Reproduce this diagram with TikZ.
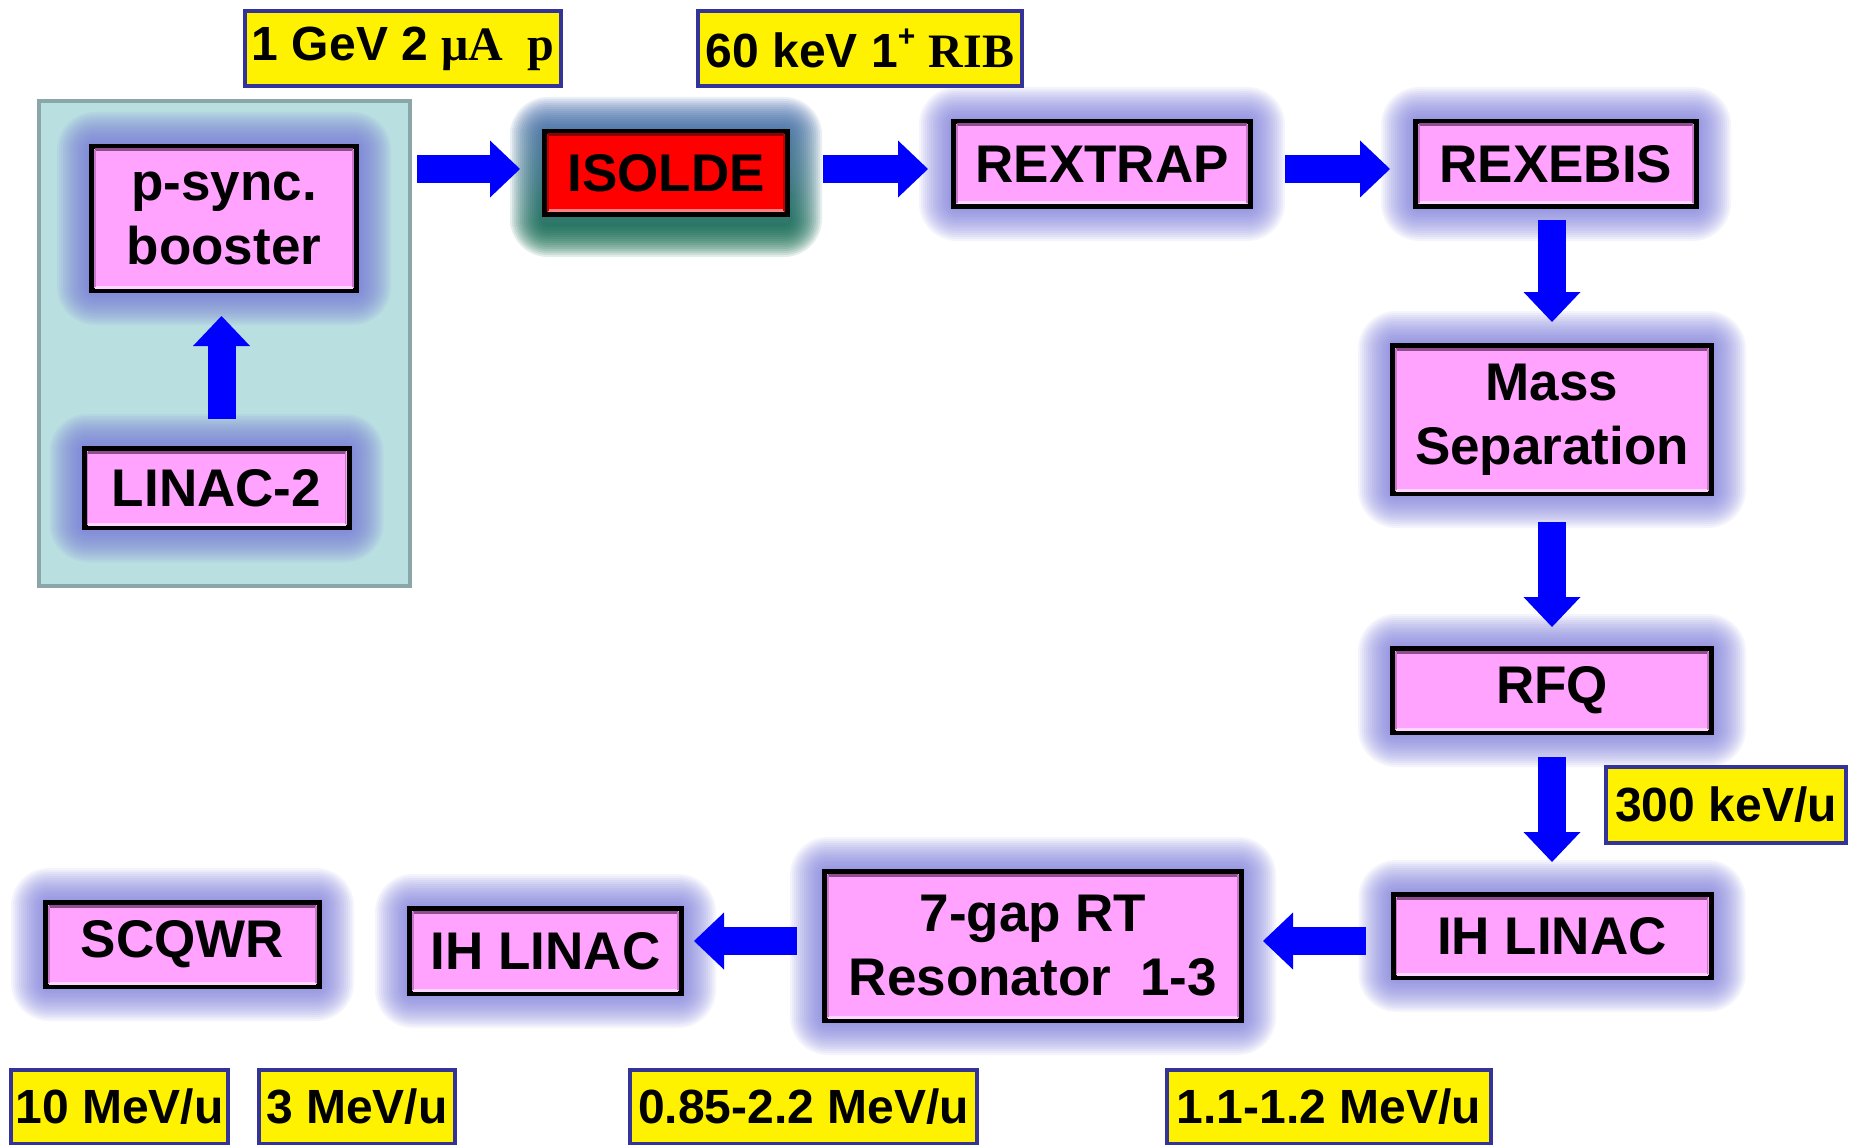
\documentclass[tikz,border=0pt]{standalone}
\usepackage{fontspec}
\setmainfont{Liberation Sans}
\newfontfamily\tms{Liberation Serif}
\usetikzlibrary{arrows.meta,calc}
\pgfdeclarelayer{back}
\pgfdeclarelayer{glow}
\pgfsetlayers{back,glow,main}
\definecolor{pinkbox}{HTML}{FFA3FF}
\definecolor{bevdark}{HTML}{8E4E8E}
\definecolor{bevmid}{HTML}{C878C8}
\definecolor{bevlight}{HTML}{FFD6FF}
\definecolor{reddark}{HTML}{8B0000}
\definecolor{redlight}{HTML}{FF8080}
\definecolor{lblue}{HTML}{333399}
\definecolor{arrblue}{HTML}{0000FF}
\definecolor{tealfill}{HTML}{B9DFE1}
\definecolor{tealline}{HTML}{8AA6A8}
\definecolor{glowc}{RGB}{118,118,216}
\definecolor{isoA}{RGB}{70,105,175}
\definecolor{isoB}{RGB}{0,95,60}
\tikzset{
  box/.style={draw=black, line width=2.5pt, fill=pinkbox, inner sep=0pt, align=center,
    font=\fontsize{26.5}{32}\selectfont\bfseries},
  lbl/.style={draw=lblue, line width=2pt, fill=yellow, inner sep=0pt,
    font=\fontsize{24}{28}\selectfont\bfseries},
  barrow/.style={draw=arrblue, line width=14pt,
    -{Triangle[length=15pt, width=28.5pt, line width=0pt]}},
}
\newcommand\glowit[2][glowc]{%
  \begin{pgfonlayer}{glow}
  \foreach \r in {2,4,...,32}{%
    \fill[#1, fill opacity=0.08, rounded corners={(3+0.5*\r)*1pt}]
      ([shift={(-\r,-\r)}]#2.north west) rectangle ([shift={(\r,\r)}]#2.south east);}
  \end{pgfonlayer}}
\newcommand\glowiso[1]{%
  \begin{pgfonlayer}{glow}
  \foreach \r in {2,4,...,32}{%
    \shade[top color=isoA, bottom color=isoB, fill opacity=0.11, rounded corners={(3+0.5*\r)*1pt}]
      ([shift={(-\r,-\r)}]#1.north west) rectangle ([shift={(\r,\r+8)}]#1.south east);}
  \end{pgfonlayer}}
\newcommand\bev[4]{% node, dark, mid, light
  \draw[line width=1.5pt, #2] ([shift={(6,6)}]#1.north west) -- ([shift={(-6,6)}]#1.north east);
  \draw[line width=1.5pt, #4] ([shift={(6,-6)}]#1.south west) -- ([shift={(-6,-6)}]#1.south east);
  \draw[line width=0.8pt, #3] ([shift={(6,6)}]#1.north west) -- ([shift={(6,-6)}]#1.south west);
  \draw[line width=0.8pt, #3] ([shift={(-6,6)}]#1.north east) -- ([shift={(-6,-6)}]#1.south east);}
\begin{document}
\begin{tikzpicture}[x=0.5pt, y=-0.5pt]
\useasboundingbox (0,0) rectangle (1849,1145);

% background group
\begin{pgfonlayer}{back}
\node[draw=tealline, line width=2pt, fill=tealfill, minimum width=185.5pt, minimum height=242.5pt, inner sep=0pt] (teal) at (224.5,343.5) {};
\end{pgfonlayer}

% boxes
\node[box, minimum width=132.5pt, minimum height=72pt] (psync) at (224,218.5) {p-sync.\\booster};
\node[box, minimum width=132.5pt, minimum height=39.5pt] (linac) at (216.5,488) {LINAC-2};
\node[box, fill=red, minimum width=121.5pt, minimum height=41.5pt] (isolde) at (666,173) {ISOLDE};
\node[box, minimum width=148.5pt, minimum height=42.5pt] (rextrap) at (1102,164) {REXTRAP};
\node[box, minimum width=140.5pt, minimum height=42.5pt] (rexebis) at (1556,164) {REXEBIS};
\node[box, minimum width=159.5pt, minimum height=74pt] (mass) at (1552,419.5) {Mass\\Separation};
\node[box, minimum width=159.5pt, minimum height=42pt] (rfq) at (1552,690.5) {RFQ};
\node[box, minimum width=159pt, minimum height=41.5pt] (ihr) at (1552,936) {IH LINAC};
\node[box, minimum width=208.5pt, minimum height=74.5pt] (gap) at (1033,946) {7-gap RT\\Resonator\ \ 1-3};
\node[box, minimum width=136pt, minimum height=42.5pt] (ihl) at (545.5,951) {IH LINAC};
\node[box, minimum width=137pt, minimum height=42pt] (scq) at (182.5,944.5) {SCQWR};

% glows
\glowit{psync}\glowit{linac}\glowiso{isolde}\glowit{rextrap}\glowit{rexebis}
\glowit{mass}\glowit{rfq}\glowit{ihr}\glowit{gap}\glowit{ihl}\glowit{scq}

% bevels
\foreach \n in {psync,linac,rextrap,rexebis,mass,rfq,ihr,gap,ihl,scq}{\bev{\n}{bevdark}{bevmid}{bevlight}}
\bev{isolde}{reddark}{red!75!black}{redlight}

% labels
\node[lbl, minimum width=158pt, minimum height=37.5pt] (l1) at (403,48.5) {1 GeV 2 {\tms μA\ \ p}};
\node[lbl, minimum width=162pt, minimum height=37.5pt] (l2) at (860,48.5) {60 keV 1\raisebox{0.42em}{\fontsize{15}{15}\selectfont +} {\tms RIB}};
\node[lbl, minimum width=120pt, minimum height=38pt] (l300) at (1726,805) {300 keV/u};
\node[lbl, minimum width=108.5pt, minimum height=37pt] (l10) at (119.5,1107) {10 MeV/u};
\node[lbl, minimum width=98pt, minimum height=37pt] (l3) at (357,1107) {3 MeV/u};
\node[lbl, minimum width=173.5pt, minimum height=37pt] (l085) at (803.5,1107) {0.85-2.2 MeV/u};
\node[lbl, minimum width=162pt, minimum height=37pt] (l11) at (1329,1107) {1.1-1.2 MeV/u};

% arrows
\coordinate (r1) at (0,169);
\coordinate (r2) at (0,941);
\draw[barrow, shorten <=2.5pt, shorten >=11pt] (teal.east |- r1) -- (isolde.west |- r1);
\draw[barrow, shorten <=16.5pt, shorten >=11.5pt] (isolde.east |- r1) -- (rextrap.west |- r1);
\draw[barrow, shorten <=16pt, shorten >=11.5pt] (rextrap.east |- r1) -- (rexebis.west |- r1);
\draw[barrow, shorten <=5.5pt, shorten >=10.5pt] (rexebis.south -| mass.north) -- (mass.north);
\draw[barrow, shorten <=13pt, shorten >=9.5pt] (mass.south) -- (rfq.north);
\draw[barrow, shorten <=11pt, shorten >=15pt] (rfq.south) -- (ihr.north);
\draw[barrow, shorten <=12.5pt, shorten >=9.5pt] (ihr.west |- r2) -- (gap.east |- r2);
\draw[barrow, shorten <=12.5pt, shorten >=5pt] (gap.west |- r2) -- (ihl.east |- r2);
\draw[barrow, shorten <=13.5pt, shorten >=11.5pt] ([xshift=2.5pt]linac.north) -- ([xshift=2.5pt]linac.north |- psync.south);
\end{tikzpicture}
\end{document}
